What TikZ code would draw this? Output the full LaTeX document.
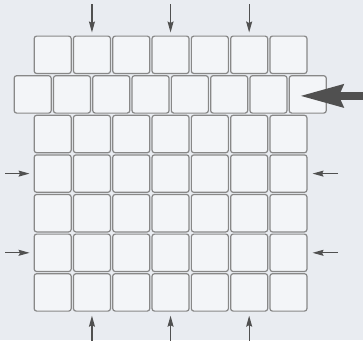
\documentclass[tikz,border=0pt]{standalone}
\usepackage{tikz}
\usetikzlibrary{arrows.meta}
\definecolor{paper}{RGB}{233,236,241}
\definecolor{cellfill}{RGB}{243,245,248}
\definecolor{cellline}{RGB}{136,136,136}
\definecolor{arrowgray}{RGB}{80,80,80}

\begin{document}
\begin{tikzpicture}[x=1pt, y=-1pt,
  cell/.style={draw=cellline, fill=cellfill, line width=1.2pt, rounded corners=2.5pt,
    minimum width=37pt, minimum height=37.4pt, inner sep=0pt},
  push/.style={arrowgray, line width=1.2pt, -{Stealth[length=11pt 0, width=6pt 0, inset=1.5pt 0]}},
  bigpush/.style={arrowgray, line width=8pt, -{Stealth[length=43pt 0, width=22pt 0, inset=4pt 0]}}]
  \fill[paper] (0,0) rectangle (363,340);
  \useasboundingbox (0,0) rectangle (363,340);
  % straight rows
  \foreach \r in {1,3,4,5,6,7}
    \foreach \k in {1,...,7}
      \node[cell] (c-\r-\k) at ({33+39.3*(\k-0.5)}, {35+39.6*(\r-0.5)}) {};
  % second row, shifted half a block
  \foreach \k in {1,...,8}
    \node[cell] (c-2-\k) at ({13+39.3*(\k-0.5)}, {35+39.6*1.5}) {};
  % small arrows
  \foreach \k in {2,4,6} {
    \coordinate (top-\k) at ({33+39.3*(\k-0.5)}, 4);
    \coordinate (bot-\k) at ({33+39.3*(\k-0.5)}, 341);
    \draw[push, shorten >=3pt] (top-\k) -- (c-1-\k.north);
    \draw[push, shorten >=4pt] (bot-\k) -- (c-7-\k.south);
  }
  \foreach \r in {4,6} {
    \coordinate (left-\r) at (5, {35+39.6*(\r-0.5)});
    \coordinate (right-\r) at (338, {35+39.6*(\r-0.5)});
    \draw[push, shorten >=4pt] (left-\r) -- (c-\r-1.west);
    \draw[push, shorten >=5pt] (right-\r) -- (c-\r-7.east);
  }
  % big arrow
  \path (c-2-8.center) ++(58,1.5) coordinate (ram);
  \draw[bigpush, shorten >=-8pt] (ram) -- (c-2-8.center |- ram);
\end{tikzpicture}
\end{document}
